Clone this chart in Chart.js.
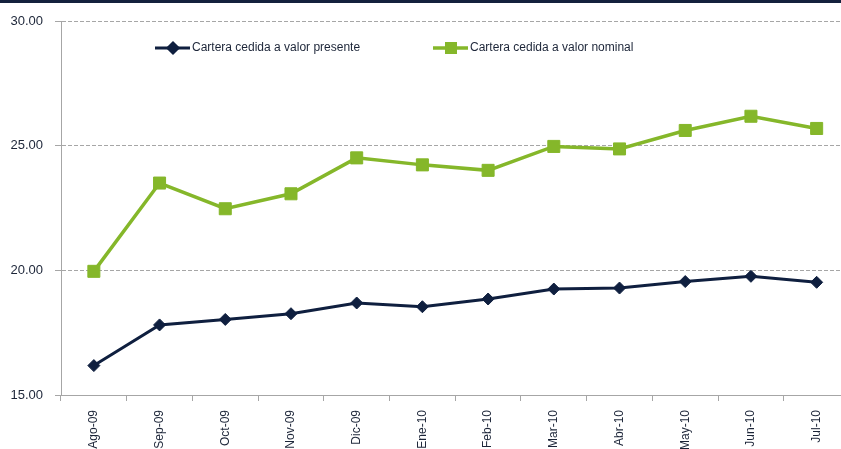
<!DOCTYPE html>
<html>
<head>
<meta charset="utf-8">
<script src="https://cdn.jsdelivr.net/npm/chart.js@4.4.1/dist/chart.umd.min.js"></script>
<style>
  html, body { margin: 0; padding: 0; background: #ffffff; overflow: hidden; }
  #wrap { position: relative; width: 841px; height: 449px; overflow: hidden; }
  #topbar { position: absolute; left: 0; top: 0; width: 841px; height: 3px; background: #14213d; z-index: 2; }
  #cc { position: absolute; left: 0; top: 0; width: 859px; height: 449px; }
</style>
</head>
<body>
<div id="wrap">
  <div id="topbar"></div>
  <div id="cc"><canvas id="c"></canvas></div>
</div>
<script>
// ---- data ----
const categories = ['Ago-09','Sep-09','Oct-09','Nov-09','Dic-09','Ene-10','Feb-10','Mar-10','Abr-10','May-10','Jun-10','Jul-10'];
const seriesNames = ['Cartera cedida a valor presente', 'Cartera cedida a valor nominal'];
const valorPresente = [16.18, 17.81, 18.03, 18.26, 18.69, 18.54, 18.85, 19.25, 19.29, 19.55, 19.76, 19.52];
const valorNominal  = [19.96, 23.50, 22.47, 23.07, 24.51, 24.23, 24.01, 24.97, 24.87, 25.61, 26.18, 25.69];
const yTicks = [15, 20, 25, 30];

const FONT = '"Liberation Sans", Arial, sans-serif';
const NAVY = '#0f1f3f';
const GREEN = '#85b72a';
const GRID = '#a6a6a6';

// custom legend drawn inside the plot area (line + marker style)
const insideLegend = {
  id: 'insideLegend',
  afterDraw(chart) {
    const ctx = chart.ctx;
    const items = [
      { ds: chart.data.datasets[0], x: 155, y: 48 },
      { ds: chart.data.datasets[1], x: 433, y: 48 }
    ];
    ctx.save();
    items.forEach(it => {
      const ds = it.ds;
      ctx.setLineDash([]);
      ctx.strokeStyle = ds.borderColor;
      ctx.lineWidth = ds.borderWidth;
      ctx.beginPath();
      ctx.moveTo(it.x, it.y);
      ctx.lineTo(it.x + 35, it.y);
      ctx.stroke();
      ctx.fillStyle = ds.pointBackgroundColor;
      ctx.strokeStyle = ds.pointBorderColor;
      Chart.helpers.drawPoint(ctx, {
        pointStyle: ds.pointStyle,
        radius: ds.pointStyle === 'rect' ? 6 : 5,
        rotation: 0,
        borderWidth: 1
      }, it.x + 18, it.y);
      ctx.fillStyle = '#1c2538';
      ctx.font = '12px ' + FONT;
      ctx.textBaseline = 'middle';
      ctx.textAlign = 'left';
      ctx.fillText(ds.label, it.x + 37, it.y);
    });
    ctx.restore();
  }
};

// solid axis lines (grid lines themselves are dashed)
const solidAxes = {
  id: 'solidAxes',
  afterDatasetsDraw(chart) {
    const a = chart.chartArea, ctx = chart.ctx;
    ctx.save();
    ctx.setLineDash([]);
    ctx.strokeStyle = GRID;
    ctx.lineWidth = 1;
    ctx.beginPath();
    ctx.moveTo(a.left + 0.5, a.top);
    ctx.lineTo(a.left + 0.5, a.bottom);
    ctx.moveTo(a.left, a.bottom + 0.5);
    ctx.lineTo(a.right, a.bottom + 0.5);
    ctx.stroke();
    ctx.restore();
  }
};

new Chart(document.getElementById('c'), {
  type: 'line',
  data: {
    labels: categories,
    datasets: [
      {
        label: seriesNames[0],
        data: valorPresente,
        borderColor: NAVY,
        backgroundColor: NAVY,
        pointBackgroundColor: NAVY,
        pointBorderColor: NAVY,
        borderWidth: 3,
        pointStyle: 'rectRot',
        pointRadius: 6,
        pointBorderWidth: 1,
        tension: 0
      },
      {
        label: seriesNames[1],
        data: valorNominal,
        borderColor: GREEN,
        backgroundColor: GREEN,
        pointBackgroundColor: GREEN,
        pointBorderColor: GREEN,
        borderWidth: 3.5,
        pointStyle: 'rect',
        pointRadius: 8.5,
        pointBorderWidth: 1,
        tension: 0
      }
    ]
  },
  options: {
    responsive: true,
    maintainAspectRatio: false,
    animation: false,
    devicePixelRatio: 1,
    layout: { padding: { left: 0, right: 1, top: 21, bottom: 0 } },
    plugins: { legend: { display: false }, tooltip: { enabled: false } },
    scales: {
      x: {
        type: 'category',
        offset: true,
        grid: {
          offset: true,
          drawOnChartArea: false,
          drawTicks: true,
          tickLength: 6,
          tickColor: GRID,
          color: GRID
        },
        border: { display: true, color: GRID, width: 1 },
        ticks: {
          minRotation: 90,
          maxRotation: 90,
          padding: 9,
          color: '#1c2538',
          font: { family: FONT, size: 12 },
          autoSkip: false
        },
        afterFit(scale) { scale.height = 54; }
      },
      y: {
        min: 15,
        max: 30,
        afterBuildTicks(scale) { scale.ticks = yTicks.map(v => ({ value: v })); },
        grid: {
          color: GRID,
          drawTicks: true,
          tickLength: 6,
          tickColor: GRID,
          tickBorderDash: []
        },
        border: { display: true, color: GRID, width: 1, dash: [4, 2] },
        ticks: {
          padding: 12,
          color: '#1c2538',
          font: { family: FONT, size: 13 },
          callback: v => Number(v).toFixed(2)
        },
        afterFit(scale) { scale.width = 61; }
      }
    }
  },
  plugins: [insideLegend, solidAxes]
});
</script>
</body>
</html>
